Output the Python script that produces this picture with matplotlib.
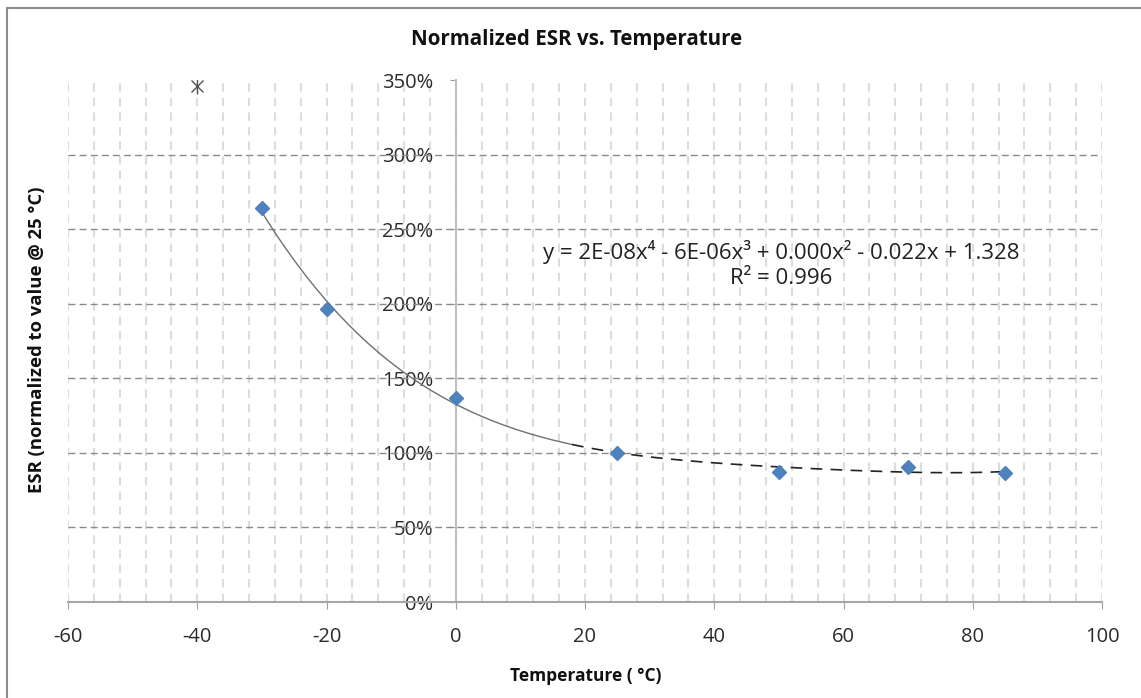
import numpy as np
import matplotlib
matplotlib.use("Agg")
import matplotlib.pyplot as plt
from matplotlib.patches import Rectangle
from matplotlib.ticker import FuncFormatter, MultipleLocator

plt.rcParams['font.family'] = ['Open Sans', 'DejaVu Sans']
plt.rcParams['axes.unicode_minus'] = False

# Data
temps = [-30, -20, 0, 25, 50, 70, 85]
esr = [2.64, 1.965, 1.367, 1.00, 0.871, 0.907, 0.862]
outlier_temp = [-40]
outlier_esr = [3.46]
x_ticks = [-60, -40, -20, 0, 20, 40, 60, 80, 100]
y_ticks = [0, 0.5, 1.0, 1.5, 2.0, 2.5, 3.0, 3.5]
eq_text = "y = 2E-08x\u2074 - 6E-06x\u00b3 + 0.000x\u00b2 - 0.022x + 1.328"
r2_text = "R\u00b2 = 0.996"

W, H = 1141, 698
fig = plt.figure(figsize=(W / 100, H / 100), dpi=100)
fig.patch.set_facecolor('white')
ax = fig.add_axes([68 / W, 1 - 602 / H, (1102 - 68) / W, (602 - 80) / H])

# outer chart border
fig.patches.append(Rectangle((7 / W, -0.05), 1.2, 1 - 8 / H + 0.05, transform=fig.transFigure,
                             fill=False, edgecolor='#8c8c8c', linewidth=1.5))

ax.set_xlim(-60, 100)
ax.set_ylim(0, 3.5)

# vertical gridlines (every 4 units)
ax.xaxis.set_minor_locator(MultipleLocator(4))
ax.grid(which='minor', axis='x', color='#dcdcdc', linestyle=(0, (4, 3)), linewidth=1.5)
ax.grid(which='major', axis='x', color='#dcdcdc', linestyle=(0, (4, 3)), linewidth=1.5)
# horizontal major gridlines (none at top edge)
for yv in y_ticks[1:-1]:
    ax.axhline(yv, color='#8a8a8a', linestyle=(0, (5, 3)), linewidth=1.0, zorder=1)
ax.set_axisbelow(True)

ax.set_xticks(x_ticks)
ax.set_yticks(y_ticks)
ax.tick_params(axis='x', which='minor', length=0)
ax.tick_params(axis='x', which='major', length=5, color='#a0a0a0', pad=13, labelsize=14.5, labelcolor='#2a2a2a')
ax.tick_params(axis='y', length=4, color='#a0a0a0', pad=12, labelsize=14.5, labelcolor='#2a2a2a')
ax.yaxis.set_major_formatter(FuncFormatter(lambda v, p: f"{v * 100:.0f}%"))

for s in ['top', 'right']:
    ax.spines[s].set_visible(False)
ax.spines['left'].set_position(('data', 0))
ax.spines['left'].set_color('#bfbfbf')
ax.spines['left'].set_linewidth(1.5)
ax.spines['bottom'].set_color('#a6a6a6')
ax.spines['bottom'].set_linewidth(1.5)

# trendline (4th order polynomial fit)
coef = np.polyfit(temps, esr, 4)
xs1 = np.linspace(-30, 18, 200)
xs2 = np.linspace(18, 85, 300)
ax.plot(xs1, np.polyval(coef, xs1), color='#707070', linewidth=1.0, zorder=3)
ax.plot(xs2, np.polyval(coef, xs2), color='#222222', linewidth=1.2,
        linestyle=(0, (7, 5)), zorder=3)

# data points
ax.plot(temps, esr, linestyle='none', marker='D', markersize=7, color='#4f81bd', zorder=4)
ax.plot(outlier_temp, outlier_esr, linestyle='none', marker='x', markersize=8,
        color='#555555', markeredgewidth=1.0, zorder=4)
ax.plot(outlier_temp, outlier_esr, linestyle='none', marker='|', markersize=11,
        color='#555555', markeredgewidth=1.0, zorder=4)

ax.text(50.4, 2.346, eq_text, ha='center', va='center', fontsize=16, color='#222222')
ax.text(50.4, 2.17, r2_text, ha='center', va='center', fontsize=16, color='#222222')

fig.text(577 / W, 1 - 40 / H, "Normalized ESR vs. Temperature", ha='center', va='center',
         fontsize=14.8, fontweight='bold', color='#111111')
fig.text(586 / W, 1 - 676 / H, "Temperature ( \u00b0C)", ha='center', va='center',
         fontsize=12.5, fontweight='bold', color='#111111')
fig.text(37 / W, 1 - 340 / H, "ESR (normalized to value @ 25 \u00b0C)", ha='center', va='center',
         rotation=90, fontsize=13.3, fontweight='bold', color='#111111')

fig.savefig("out.png", dpi=100, facecolor='white')
